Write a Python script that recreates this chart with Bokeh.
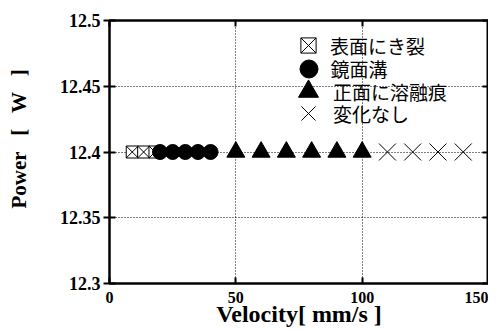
from bokeh.plotting import figure
from bokeh.models import Legend, LegendItem, FixedTicker, LinearAxis, Range1d
from bokeh.embed import file_html
from bokeh.resources import INLINE

crack_v = [9, 13.5, 18]
crack_p = [12.4, 12.4, 12.4]
groove_v = [20, 25, 30, 35, 40]
groove_p = [12.4] * 5
melt_v = [50, 60, 70, 80, 90, 100]
melt_p = [12.4] * 6
none_v = [110, 120, 130, 140]
none_p = [12.4] * 4

labels = ["表面にき裂", "鏡面溝", "正面に溶融痕", "変化なし"]
x_ticks = [0, 50, 100, 150]
y_ticks = [12.3, 12.35, 12.4, 12.45, 12.5]
y_tick_labels = ["12.3", "12.35", "12.4", "12.45", "12.5"]
x_title = "Velocity[ mm/s ]"
y_title = "\u2002\u2002\u00a0Power\u2002\u00a0[\u2002\u00a0W\u2002\u00a0]"

p = figure(width=488, height=329, output_backend="svg", toolbar_location=None,
           x_range=Range1d(0, 150), y_range=Range1d(12.3, 12.5),
           min_border_left=109, min_border_right=0, min_border_top=20, min_border_bottom=45)
p.outline_line_color = "black"
p.outline_line_width = 2
p.background_fill_color = "white"
p.border_fill_color = "white"

for ax in (p.xaxis[0], p.yaxis[0]):
    ax.major_tick_in = 6
    ax.major_tick_out = 0
    ax.minor_tick_in = 0
    ax.minor_tick_out = 0
    ax.axis_line_width = 2
    ax.major_tick_line_width = 2
    ax.major_label_text_font = "Liberation Serif"
    ax.major_label_text_font_style = "bold"
    ax.major_label_text_color = "black"
    ax.axis_label_text_font = "Liberation Serif"
    ax.axis_label_text_font_style = "bold"
    ax.axis_label_text_color = "black"

p.xaxis.major_label_text_font_size = "16px"
p.yaxis.major_label_text_font_size = "18px"
p.xaxis.axis_label_text_font_size = "24px"
p.yaxis.axis_label_text_font_size = "21px"
p.yaxis.major_tick_out = 6

p.xaxis.ticker = FixedTicker(ticks=x_ticks)
p.yaxis.ticker = FixedTicker(ticks=y_ticks)
p.yaxis.major_label_overrides = {t: l for t, l in zip(y_ticks, y_tick_labels)}
p.xaxis.axis_label = x_title
p.yaxis.axis_label = y_title
p.xaxis.axis_label_standoff = -5
p.yaxis.axis_label_standoff = 26
p.xaxis.major_label_standoff = 8
p.yaxis.major_label_standoff = 3

# mirrored axes (ticks only)
top = LinearAxis(ticker=FixedTicker(ticks=x_ticks), major_label_text_font_size="1px",
                 major_label_overrides={t: "" for t in x_ticks}, major_label_standoff=0,
                 major_tick_in=6, major_tick_out=0, minor_tick_in=0, minor_tick_out=0,
                 axis_line_width=2, major_tick_line_width=2)
right = LinearAxis(ticker=FixedTicker(ticks=y_ticks), major_label_text_font_size="1px",
                   major_label_overrides={t: "" for t in y_ticks}, major_label_standoff=0,
                   major_tick_in=6, major_tick_out=0, minor_tick_in=0, minor_tick_out=0,
                   axis_line_width=2, major_tick_line_width=2)
p.add_layout(top, "above")
p.add_layout(right, "right")

p.xgrid.ticker = FixedTicker(ticks=[50, 100])
p.ygrid.ticker = FixedTicker(ticks=[12.35, 12.4, 12.45])
for g in (p.xgrid[0], p.ygrid[0]):
    g.grid_line_color = "black"
    g.grid_line_dash = "1 2"
    g.grid_line_width = 1

r1 = p.scatter(crack_v, crack_p, marker="square_x", size=12, fill_color="white",
               line_color="black", line_width=1)
r2 = p.scatter(groove_v, groove_p, marker="circle", size=15, fill_color="black", line_color="black")
r3 = p.scatter(melt_v, melt_p, marker="triangle", size=18, fill_color="black", line_color="black")
r4 = p.scatter(none_v, none_p, marker="x", size=24, line_color="black", line_width=1)

# one legend box per entry so each marker can be sized like the reference
frame_h = 262
marker_cx = 199      # marker centre, px from frame left
text_x = 221         # label start, px from frame left
row_cy = [24, 47, 70, 92]   # row centres, px from frame top
glyph_box = [38, 45, 50, 50]
for lab, r, cy, g in zip(labels, [r1, r2, r3, r4], row_cy, glyph_box):
    lg = Legend(items=[LegendItem(label=lab, renderers=[r])],
                location=(marker_cx - g / 2, frame_h - cy - g / 2))
    lg.border_line_color = None
    lg.background_fill_alpha = 0
    lg.label_text_font = "Noto Sans CJK JP"
    lg.label_text_font_size = "19px"
    lg.label_text_color = "black"
    lg.glyph_height = g
    lg.glyph_width = g
    lg.label_height = g
    lg.padding = 0
    lg.margin = 0
    lg.label_standoff = int(text_x - marker_cx - g / 2)
    p.add_layout(lg)

open("out.html", "w").write(file_html(p, INLINE))
